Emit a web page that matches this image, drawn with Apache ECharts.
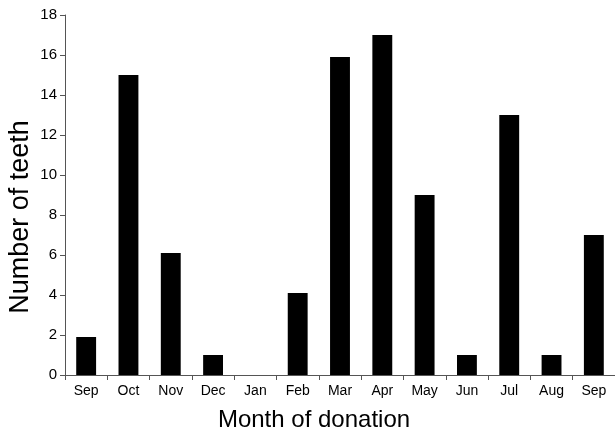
<!DOCTYPE html>
<html><head><meta charset="utf-8">
<script src="https://cdn.jsdelivr.net/npm/echarts@6/dist/echarts.min.js"></script>
<style>html,body{margin:0;padding:0;background:#fff;overflow:hidden}#c{width:615px;height:434px}</style>
</head><body><div id="c"></div>
<script>
const categories = ["Sep","Oct","Nov","Dec","Jan","Feb","Mar","Apr","May","Jun","Jul","Aug","Sep"];
const teeth = [1.9, 15, 6.1, 1, 0, 4.1, 15.9, 17, 9, 1, 13, 1, 7];
const yTicks = {min: 0, max: 18, interval: 2};
const chart = echarts.init(document.getElementById('c'), null, {renderer: 'canvas'});
chart.setOption({
  animation: false,
  backgroundColor: '#fff',
  grid: {left: 65, right: 0, top: 15, bottom: 59, containLabel: false, outerBoundsMode: 'none'},
  xAxis: {
    type: 'category',
    data: categories,
    name: 'Month of donation',
    nameLocation: 'middle',
    nameGap: 33,
    nameMoveOverlap: false,
    nameTextStyle: {fontFamily: 'Liberation Sans', fontSize: 24, color: '#000', padding: [0, 52, 0, 0]},
    axisLine: {lineStyle: {color: '#555', width: 1}},
    axisTick: {show: true, alignWithLabel: false, length: 5, inside: false, lineStyle: {color: '#555'}},
    axisLabel: {fontFamily: 'Liberation Sans', fontSize: 14, color: '#000', margin: 9, interval: 0},
    splitLine: {show: false}
  },
  yAxis: {
    type: 'value',
    min: yTicks.min, max: yTicks.max, interval: yTicks.interval,
    name: 'Number of teeth',
    nameLocation: 'middle',
    nameGap: 31,
    nameRotate: 90,
    nameMoveOverlap: false,
    nameTextStyle: {fontFamily: 'Liberation Sans', fontSize: 27, color: '#000', padding: [0, 44, 0, 0]},
    axisLine: {show: true, lineStyle: {color: '#555', width: 1}},
    axisTick: {show: true, length: 5, lineStyle: {color: '#555'}},
    axisLabel: {fontFamily: 'Liberation Sans', fontSize: 15, color: '#000', margin: 8},
    splitLine: {show: false}
  },
  series: [{
    type: 'bar',
    data: teeth,
    barWidth: '47%',
    itemStyle: {color: '#000'}
  }]
});
</script></body></html>
